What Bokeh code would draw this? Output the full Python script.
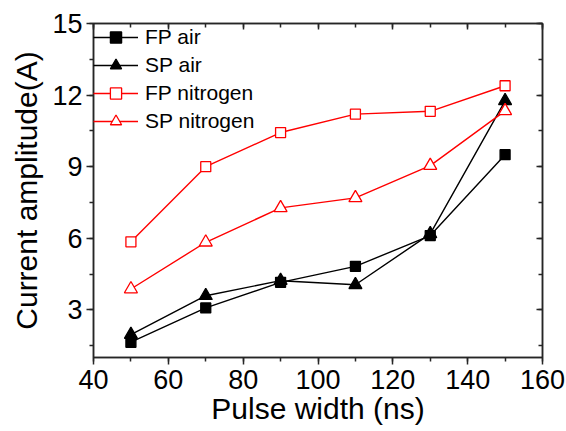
from bokeh.plotting import figure
from bokeh.models import (Range1d, LinearAxis, SingleIntervalTicker, Legend, LegendItem,
                          CustomLabelingPolicy)
from bokeh.embed import file_html
from bokeh.resources import INLINE

pulse_width = [50, 70, 90, 110, 130, 150]
fp_air = [1.64, 3.08, 4.15, 4.82, 6.11, 9.5]
sp_air = [1.96, 3.59, 4.22, 4.05, 6.18, 11.76]
fp_nitrogen = [5.85, 9.0, 10.43, 11.2, 11.32, 12.39]
sp_nitrogen = [3.87, 5.83, 7.27, 7.69, 9.04, 11.34]
series_names = ["FP air", "SP air", "FP nitrogen", "SP nitrogen"]

FONT = "Liberation Sans"
AX = "#262626"

p = figure(width=566, height=431, output_backend="svg", toolbar_location=None,
           x_range=Range1d(40, 160), y_range=Range1d(1, 15),
           min_border_left=93, min_border_right=24, min_border_top=23, min_border_bottom=74)
p.xgrid.visible = False
p.ygrid.visible = False
p.outline_line_color = AX
p.outline_line_width = 1.5
p.background_fill_color = "white"
p.border_fill_color = "white"

p.xaxis.ticker = SingleIntervalTicker(interval=20, num_minor_ticks=2)
p.yaxis.ticker = SingleIntervalTicker(interval=3, num_minor_ticks=2)

for ax in (p.xaxis[0], p.yaxis[0]):
    ax.axis_line_color = AX
    ax.axis_line_width = 1.5
    ax.major_tick_line_color = AX
    ax.minor_tick_line_color = AX
    ax.major_tick_line_width = 1.5
    ax.minor_tick_line_width = 1.5
    ax.major_tick_in = 0
    ax.major_tick_out = 7
    ax.minor_tick_in = 0
    ax.minor_tick_out = 4
    ax.major_label_text_font = FONT
    ax.major_label_text_font_size = "27px"
    ax.major_label_text_color = "black"
    ax.axis_label_text_font = FONT
    ax.axis_label_text_font_size = "30px"
    ax.axis_label_text_font_style = "normal"
    ax.axis_label_text_color = "black"

p.xaxis.axis_label = "Pulse width (ns)"
p.yaxis.axis_label = "Current amplitude(A)"
p.xaxis.major_label_standoff = 5
p.xaxis.axis_label_standoff = 0
p.yaxis.major_label_standoff = 4
p.yaxis.axis_label_standoff = 6

top = LinearAxis(ticker=SingleIntervalTicker(interval=20, num_minor_ticks=2))
right = LinearAxis(ticker=SingleIntervalTicker(interval=3, num_minor_ticks=2))
for ax in (top, right):
    ax.axis_line_color = AX
    ax.axis_line_width = 1.5
    ax.major_tick_line_color = AX
    ax.minor_tick_line_color = AX
    ax.major_tick_line_width = 1.5
    ax.minor_tick_line_width = 1.5
    ax.major_tick_in = 6
    ax.major_tick_out = 0
    ax.minor_tick_in = 4
    ax.minor_tick_out = 0
    ax.major_label_text_font_size = "1px"
    ax.major_label_standoff = 0
    ax.major_label_policy = CustomLabelingPolicy(code="return []")
p.add_layout(top, "above")
p.add_layout(right, "right")

styles = [
    (fp_air, "black", "square", "black", 10),
    (sp_air, "black", "triangle", "black", 13),
    (fp_nitrogen, "red", "square", "white", 10),
    (sp_nitrogen, "red", "triangle", "white", 13),
]
items = []
for name, (vals, col, mk, fill, sz) in zip(series_names, styles):
    l = p.line(pulse_width, vals, line_color=col, line_width=1.4)
    s = p.scatter(pulse_width, vals, marker=mk, size=sz, line_color=col,
                  fill_color=fill, line_width=1.3)
    items.append(LegendItem(label=name, renderers=[l, s]))

legend = Legend(items=items, location="top_left")
legend.background_fill_alpha = 0
legend.border_line_color = None
legend.label_text_font = FONT
legend.label_text_font_size = "21px"
legend.label_text_color = "black"
legend.glyph_width = 45
legend.glyph_height = 28
legend.label_height = 28
legend.spacing = 0
legend.padding = 2
legend.margin = 0
legend.label_standoff = 7
p.add_layout(legend)

open("out.html", "w").write(file_html(p, INLINE))
